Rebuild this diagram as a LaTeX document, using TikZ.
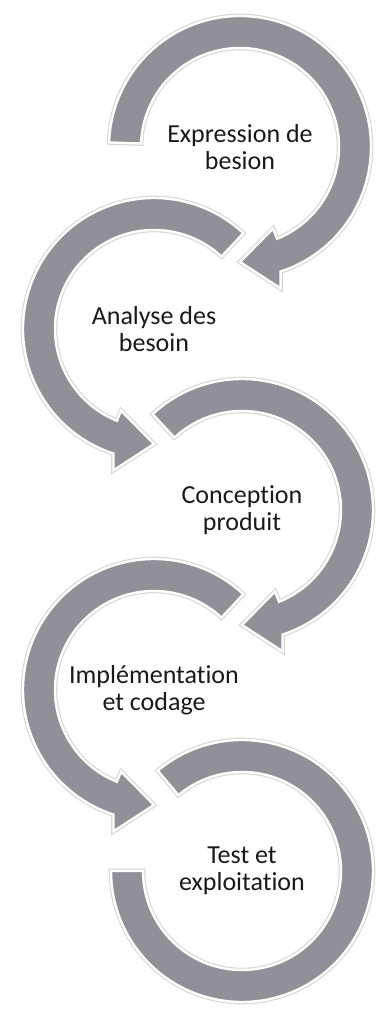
\documentclass[tikz,border=0pt]{standalone}
\usepackage{fontspec}
\setmainfont[Ligatures=NoCommon]{Carlito}
\definecolor{ringgray}{RGB}{144,144,150}
\tikzset{
  ring/.style={fill=ringgray, draw=white, line width=2.4pt, preaction={draw=black!16, line width=4.6pt}},
  steplabel/.style={align=center, font=\fontsize{26}{27}\selectfont, text=black!90}
}
\begin{document}
\begin{tikzpicture}[x=1pt,y=1pt]
\useasboundingbox (0,0) rectangle (376,1010);

\coordinate (c1) at (240,863);
\coordinate (c2) at (154,681);
\coordinate (c3) at (242,500);
\coordinate (c4) at (154,320);
\coordinate (c5) at (242,139);

\begin{scope}[shift={(c5)}]
\path[ring] (130:131) arc[start angle=130, end angle=-180, radius=131] -- (-180:99) arc[start angle=-180, end angle=130, radius=99] -- cycle;
\end{scope}
\begin{scope}[shift={(c4)}]
\path[ring] (47:131) arc[start angle=47, end angle=252, radius=131] -- (254:147) -- (270:115) -- (248:88) -- (248:99) arc[start angle=248, end angle=47, radius=99] -- cycle;
\end{scope}
\begin{scope}[shift={(c3)}]
\path[ring] (133:131) arc[start angle=133, end angle=-72, radius=131] -- (-74:147) -- (-90:115) -- (-68:88) -- (-68:99) arc[start angle=-68, end angle=133, radius=99] -- cycle;
\end{scope}
\begin{scope}[shift={(c2)}]
\path[ring] (47:131) arc[start angle=47, end angle=252, radius=131] -- (254:147) -- (270:115) -- (248:88) -- (248:99) arc[start angle=248, end angle=47, radius=99] -- cycle;
\end{scope}
\begin{scope}[shift={(c1)}]
\path[ring] (178:131) arc[start angle=178, end angle=-72, radius=131] -- (-74:147) -- (-90:115) -- (-68:88) -- (-68:99) arc[start angle=-68, end angle=178, radius=99] -- cycle;
\end{scope}

\node[steplabel] (expr) at (c1) {Expression de\\besion};
\node[steplabel] (anal) at (c2) {Analyse des\\besoin};
\node[steplabel] (conc) at (c3) {Conception\\produit};
\node[steplabel] (impl) at (c4) {Implémentation\\et codage};
\node[steplabel] (test) at (c5) {Test et\\exploitation};
\end{tikzpicture}
\end{document}
